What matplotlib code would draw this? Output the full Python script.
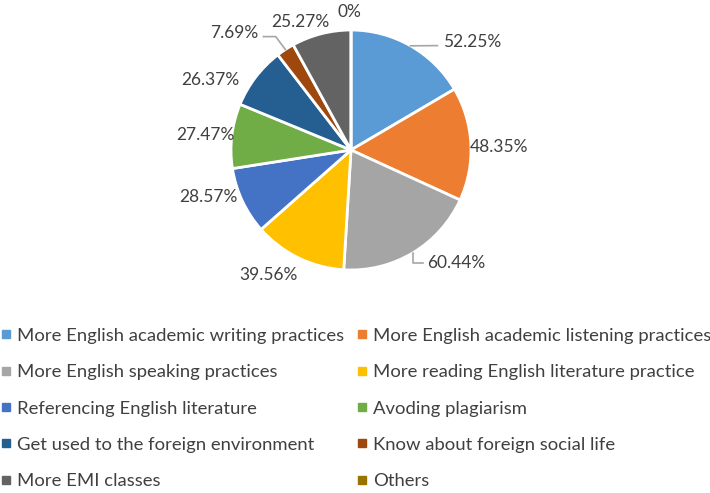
import numpy as np
import matplotlib
matplotlib.use("Agg")
import matplotlib.pyplot as plt
from matplotlib.lines import Line2D

plt.rcParams['font.family'] = ['Lato', 'DejaVu Sans']

# data
categories = [
    "More English academic writing practices",
    "More English academic listening practices",
    "More English speaking practices",
    "More reading English literature practice",
    "Referencing English literature",
    "Avoding plagiarism",
    "Get used to the foreign environment",
    "Know about foreign social life",
    "More EMI classes",
    "Others",
]
values = [52.25, 48.35, 60.44, 39.56, 28.57, 27.47, 26.37, 7.69, 25.27, 0]
value_labels = ["52.25%", "48.35%", "60.44%", "39.56%", "28.57%",
                "27.47%", "26.37%", "7.69%", "25.27%", "0%"]

colors = ["#5B9BD5", "#ED7D31", "#A5A5A5", "#FFC000", "#4472C4",
          "#70AD47", "#255E91", "#9E480E", "#636363", "#997300"]

# label placement (in pie radius units), mimicking Excel's best fit
label_pos = [(1.01, 0.90), (1.23, 0.025), (0.88, -0.94), (-0.69, -1.04),
             (-1.19, -0.39), (-1.21, 0.125), (-1.17, 0.58), (-0.97, 0.975),
             (-0.42, 1.07), (-0.01, 1.15)]
leader = {0: "h", 2: "v", 7: "h"}

txt_color = "#404040"
line_color = "#A6A6A6"

fig = plt.figure(figsize=(7.1, 4.93), dpi=100)
W, H = 710, 493
cx, cy, r = 351, 150, 120
ax = fig.add_axes([(cx - r) / W, (H - cy - r) / H, 2 * r / W, 2 * r / H])

wedges, _ = ax.pie(values, colors=colors, startangle=90, counterclock=False,
                   radius=1, wedgeprops=dict(edgecolor="white", linewidth=2))
ax.set_xlim(-1, 1)
ax.set_ylim(-1, 1)
ax.set_aspect("equal")
ax.axis("off")

for i, w in enumerate(wedges):
    lx, ly = label_pos[i]
    ax.text(lx, ly, value_labels[i], ha="center", va="center",
            fontsize=12.5, color=txt_color, clip_on=False)
    if i in leader:
        mid = np.deg2rad((w.theta1 + w.theta2) / 2)
        x0, y0 = np.cos(mid), np.sin(mid)
        if leader[i] == "v":
            xs = [x0, x0, lx - 0.28]
            ys = [y0, ly, ly]
        elif i == 0:
            xs = [x0, lx - 0.29]
            ys = [y0, ly - 0.03]
        else:
            xs = [x0, x0 - 0.08, lx + 0.24]
            ys = [y0, ly - 0.03, ly - 0.03]
        ax.plot(xs, ys, color=line_color, lw=1.2, clip_on=False)

handles = [Line2D([], [], marker="s", linestyle="none", markersize=5.5,
                  markerfacecolor=c, markeredgecolor=c) for c in colors]
# matplotlib fills legend columns first; reorder so it reads row by row
order = [0, 2, 4, 6, 8, 1, 3, 5, 7, 9]
fig.legend([handles[i] for i in order], [categories[i] for i in order],
           ncol=2, loc="upper left",
           bbox_to_anchor=(-0.016, 1 - 315 / H), frameon=False,
           fontsize=13.3, labelcolor=txt_color, handlelength=0.5,
           handletextpad=0.35, columnspacing=0.68, labelspacing=1.1,
           borderpad=0.2)

fig.savefig("out.png", dpi=100, facecolor="white")
